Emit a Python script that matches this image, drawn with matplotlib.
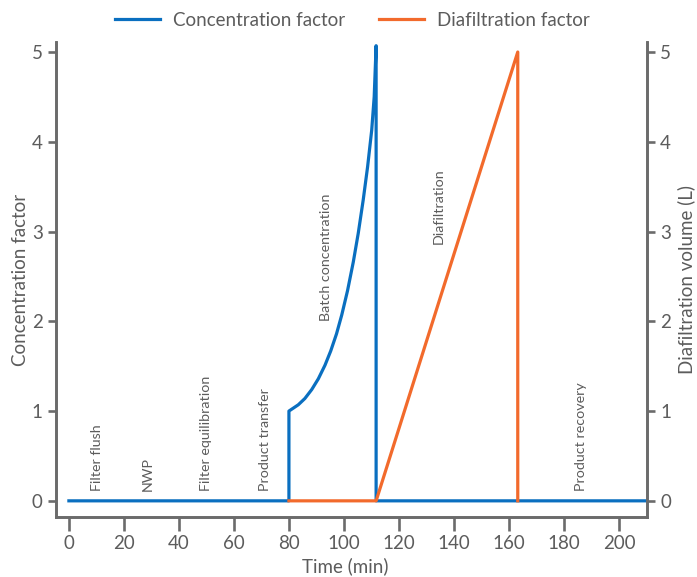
import matplotlib.pyplot as plt

plt.rcParams['font.family'] = ['Lato', 'DejaVu Sans']

# Concentration factor over the run (min, factor)
conc_time = [0, 80, 80, 83.4, 85.8, 88.3, 90.7, 93.1, 95.2, 97.3, 99.2, 101.3,
             103.4, 105.2, 107.0, 108.6, 110.1, 111.0, 111.7, 111.7, 210]
conc_factor = [0, 0, 1.0, 1.07, 1.14, 1.24, 1.36, 1.51, 1.67, 1.86, 2.07, 2.34,
               2.66, 2.98, 3.35, 3.72, 4.13, 4.50, 5.07, 0, 0]

# Diafiltration volume (min, L)
dia_time = [80, 111.7, 163.2, 163.2]
dia_volume = [0, 0, 5.0, 0]

# Process step labels: name, time, height
steps = ["Filter flush", "NWP", "Filter equilibration", "Product transfer",
         "Batch concentration", "Diafiltration", "Product recovery"]
step_x = [10.2, 28.7, 49.8, 71.3, 93.5, 134.3, 186.1]
step_y = [0.11, 0.11, 0.11, 0.11, 2.0, 2.86, 0.11]

blue = '#0a6fc0'
orange = '#f26a2c'
grey = '#6b6b6b'
txt = '#5c5c5c'

fig = plt.figure(figsize=(6.97, 5.77), dpi=100)
ax = fig.add_axes([0.0803, 0.104, 0.848, 0.823])
ax2 = ax.twinx()

l1, = ax.plot(conc_time, conc_factor, color=blue, lw=2.3, label='Concentration factor')
l2, = ax2.plot(dia_time, dia_volume, color=orange, lw=2.3, label='Diafiltration factor')

for a in (ax, ax2):
    a.set_xlim(-4.7, 210.2)
    a.set_ylim(-0.18, 5.11)
    a.set_yticks(range(6))
    a.spines['top'].set_visible(False)
    for s in a.spines.values():
        s.set_color(grey)
        s.set_linewidth(1.9)
    a.tick_params(colors=grey, labelcolor=txt, labelsize=13.5, width=1.9, length=6)

ax.set_xticks(range(0, 201, 20))
ax.tick_params(axis='x', length=10, pad=3)

for name, x, y in zip(steps, step_x, step_y):
    ax.text(x, y, name, rotation=90, ha='center', va='bottom', fontsize=10.3, color=txt)

ax.set_xlabel('Time (min)', fontsize=13.5, color=txt)
ax.xaxis.set_label_coords(0.49, -0.085)
ax.xaxis.label.set_va('top')
ax.set_ylabel('Concentration factor', fontsize=13.5, color=txt, labelpad=2)
ax2.set_ylabel('Diafiltration volume (L)', fontsize=13.5, color=txt, labelpad=4)

fig.legend(handles=[l1, l2], loc='center', bbox_to_anchor=(0.505, 0.965), ncol=2,
           frameon=False, fontsize=13.5, labelcolor=txt, handlelength=2.4,
           handletextpad=0.7, columnspacing=1.8)

fig.savefig('out.png', dpi=100)
